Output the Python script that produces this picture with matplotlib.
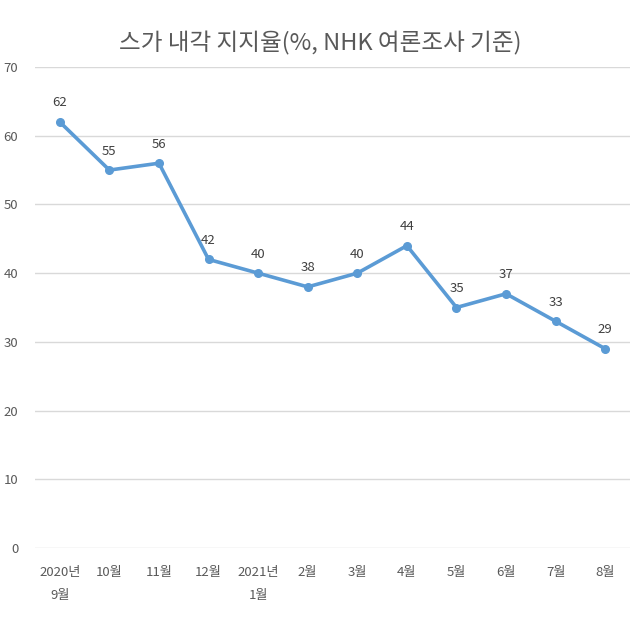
import matplotlib
matplotlib.use("Agg")
import matplotlib.pyplot as plt

categories = ["2020년\n9월", "10월", "11월", "12월", "2021년\n1월", "2월", "3월", "4월", "5월", "6월", "7월", "8월"]
values = [62, 55, 56, 42, 40, 38, 40, 44, 35, 37, 33, 29]
yticks = [0, 10, 20, 30, 40, 50, 60, 70]
title = "스가 내각 지지율(%, NHK 여론조사 기준)"

plt.rcParams['font.family'] = ['Noto Sans CJK KR', 'DejaVu Sans']

fig = plt.figure(figsize=(6.4, 6.17), dpi=100)
ax = fig.add_axes([0.0547, 0.1118, 0.9297, 0.7796])

x = list(range(len(categories)))
ax.plot(x, values, color="#5B9BD5", linewidth=2.6, marker="o", markersize=5.5, zorder=3)
for xi, v in zip(x, values):
    ax.annotate(str(v), (xi, v), xytext=(0, 9), textcoords="offset points",
                ha="center", va="bottom", fontsize=9.5, color="#404040")

ax.set_xlim(-0.5, len(categories) - 0.5)
ax.set_ylim(0, 70)
ax.set_yticks(yticks)
ax.set_xticks(x)
ax.set_xticklabels(categories, fontsize=9.5, color="#595959", linespacing=2.0, va="top")
ax.tick_params(axis="y", labelsize=9.5, labelcolor="#595959", length=0, pad=12)
ax.tick_params(axis="x", length=0, pad=13)
ax.grid(axis="y", color="#D9D9D9", linewidth=1)
ax.set_axisbelow(True)
for s in ax.spines.values():
    s.set_visible(False)

fig.text(0.5, 0.93, title, ha="center", va="center", fontsize=17, color="#595959")

fig.savefig("out.png", dpi=100)
